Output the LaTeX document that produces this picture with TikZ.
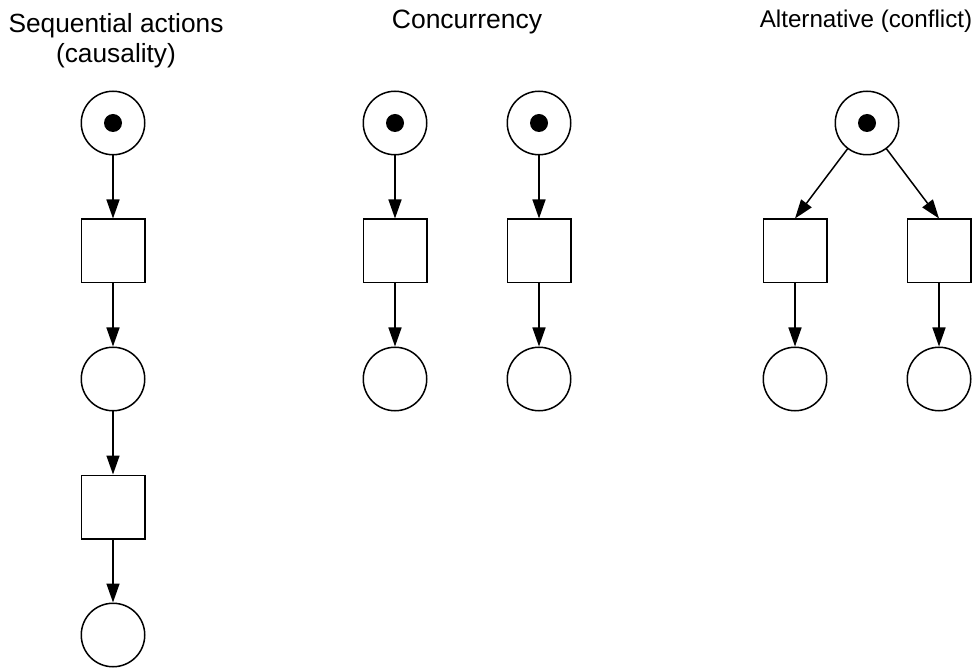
\documentclass[tikz,border=0pt]{standalone}
\usepackage{fontspec}
\setmainfont{Liberation Sans}
\usepackage{tikz}
\usetikzlibrary{arrows.meta, positioning, petri}
\tikzstyle{arrow} = [line width=1.5pt,-{Triangle[length=19pt,width=13pt]}]
\tikzstyle{pl} = [circle, draw, line width=1.5pt, minimum size=63.5pt, inner sep=0pt]
\tikzstyle{tr} = [rectangle, draw, line width=1.5pt, minimum size=63.5pt, inner sep=0pt]
\tikzstyle{every token} = [fill=black, minimum size=18pt, inner sep=0pt]

\begin{document}
\begin{tikzpicture}[x=1pt, y=1pt, node distance=63pt]

\useasboundingbox (0,0) rectangle (977,670);

% Titles
\node[font=\fontsize{26.3}{30}\selectfont, align=center, anchor=base] (seq) at (116,607) {Sequential actions\\(causality)};
\node[font=\fontsize{26.5}{30}\selectfont, anchor=base] (conc) at (467,641) {Concurrency};
\node[font=\fontsize{24.2}{28}\selectfont, anchor=base] (alt) at (866,642) {Alternative (conflict)};

% Sequential actions
\node[pl, tokens=1] (s1) at (113,547) {};
\node[tr, below=of s1] (s2) {};
\node[pl, below=of s2] (s3) {};
\node[tr, below=of s3] (s4) {};
\node[pl, below=of s4] (s5) {};

% Concurrency
\node[pl, tokens=1] (c1) at (395,547) {};
\node[tr, below=of c1] (c2) {};
\node[pl, below=of c2] (c3) {};
\node[pl, tokens=1] (d1) at (539,547) {};
\node[tr, below=of d1] (d2) {};
\node[pl, below=of d2] (d3) {};

% Alternative
\node[pl, tokens=1] (a1) at (867,547) {};
\node[tr] (a2) at (795,419) {};
\node[tr] (a3) at (939,419) {};
\node[pl, below=of a2] (a4) {};
\node[pl, below=of a3] (a5) {};

% Arcs
\draw[arrow] (s1) -- (s2);
\draw[arrow] (s2) -- (s3);
\draw[arrow] (s3) -- (s4);
\draw[arrow] (s4) -- (s5);
\draw[arrow] (c1) -- (c2);
\draw[arrow] (c2) -- (c3);
\draw[arrow] (d1) -- (d2);
\draw[arrow] (d2) -- (d3);
\draw[arrow] (a1) -- (a2.north);
\draw[arrow] (a1) -- (a3.north);
\draw[arrow] (a2) -- (a4);
\draw[arrow] (a3) -- (a5);

\end{tikzpicture}
\end{document}
